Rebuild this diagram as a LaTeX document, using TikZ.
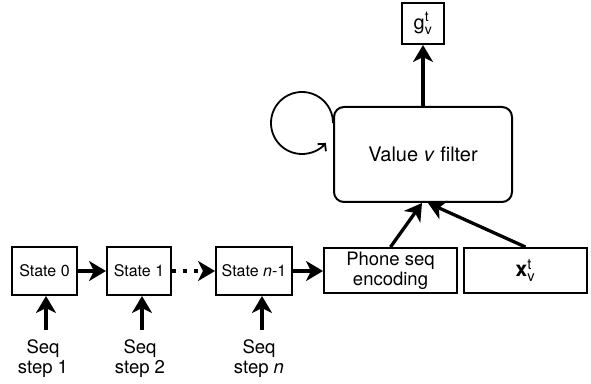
\documentclass[tikz,border=0pt]{standalone}
\usepackage{fontspec}
\setmainfont{TeX Gyre Heros}
\usepackage{amsmath}
\usetikzlibrary{arrows.meta, positioning}
\tikzset{
box/.style={draw, line width=2pt, inner sep=0pt, align=center, font=\fontsize{18.5}{20}\selectfont}, % plain boxes
statebox/.style={box, minimum height=48pt, font=\fontsize{16}{19}\selectfont}, % the chain of states
seqlabel/.style={align=center, inner sep=0pt, inner ysep=9pt, anchor=north, font=\fontsize{18.5}{20}\selectfont}, % inputs below the states
flow/.style={-{Stealth[length=17pt, width=20pt, inset=5pt]}, line width=3.3pt}, % thick arrows
selfloop/.style={-{Straight Barb[length=5pt, width=11pt]}, line width=1.8pt}, % loop on the filter
}

\begin{document}
\begin{tikzpicture}[x=1pt, y=1pt]
    \useasboundingbox (0,0) rectangle (591,383);
    % chain of states
    \node[statebox, minimum width=65pt] (s0) at (44.5,112) {State 0};
    \node[statebox, minimum width=64pt] (s1) at (139,112) {State 1};
    \node[statebox, minimum width=76pt] (sn) at (254,112) {State \textit{n}-1};
    \node[box, minimum width=133pt, minimum height=45pt] (phone) at (390.5,112.5) {Phone seq\\encoding};
    \node[box, minimum width=123pt, minimum height=45pt, font=\fontsize{21}{24}\selectfont] (xv) at (525.5,112.5) {\textbf{x}$^{\text{t}}_{\text{v}}$};
    % filter and its output
    \node[box, rounded corners=10pt, minimum width=178pt, minimum height=95pt, font=\fontsize{20}{24}\selectfont] (filter) at (423,228.5) {Value \textit{v} filter};
    \node[box, minimum width=42pt, minimum height=41pt, font=\fontsize{20}{24}\selectfont] (g) at (423,359.5) {g$^{\text{t}}_{\text{v}}$};
    % sequence steps
    \node[seqlabel] (q0) at (43,53) {Seq\\step 1};
    \node[seqlabel] (q1) at (140,53) {Seq\\step 2};
    \node[seqlabel] (qn) at (259,53) {Seq\\step \textit{n}};

    \draw[flow] ([xshift=3pt]q0.north) -- ([xshift=3pt]q0.north |- s0.south);
    \draw[flow] ([xshift=2pt]q1.north) -- ([xshift=2pt]q1.north |- s1.south);
    \draw[flow] ([xshift=3pt]qn.north) -- ([xshift=3pt]qn.north |- sn.south);
    \draw[flow] (s0.east) -- (s1.west);
    \draw[flow, dash pattern=on 4pt off 7pt] (s1.east) -- (sn.west);
    \draw[flow] (sn.east) -- (sn.east -| phone.west);
    \draw[flow] (phone.north) -- ([xshift=-1pt]filter.south);
    \draw[flow] (xv.north) -- ([xshift=5pt]filter.south);
    \draw[flow] (filter.north) -- (g.south);
    \draw[selfloop] ([yshift=31.5pt]filter.west) arc[start angle=0, end angle=320, radius=31pt];
\end{tikzpicture}
\end{document}
